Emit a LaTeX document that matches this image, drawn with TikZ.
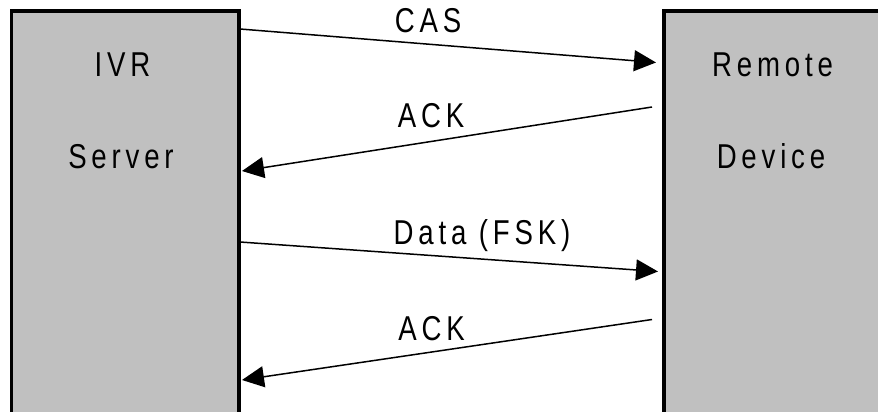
\documentclass[tikz,border=0pt]{standalone}
\usepackage{fontspec}
\setmainfont{Liberation Sans}[FakeStretch=0.8, LetterSpace=14]
\usetikzlibrary{arrows.meta}
\definecolor{boxgray}{HTML}{C0C0C0}
\tikzset{
  boxnode/.style={draw=black, line width=3.5pt, fill=boxgray, rectangle, inner sep=0pt},
  msg/.style={line width=1.5pt, -{Triangle[length=22pt, width=21pt]}, shorten >=0pt},
  lbl/.style={anchor=base, inner sep=0pt, font=\fontsize{34.5}{38}\selectfont}
}
\begin{document}
\begin{tikzpicture}[x=1pt, y=-1pt]
\useasboundingbox (0,0) rectangle (878,412);
\clip (0,0) rectangle (878,412);
\fill[white] (0,0) rectangle (878,412);
\node[boxnode, minimum width=227.5pt, minimum height=420pt, anchor=north west] (ivr) at (9.5,9.5) {};
\node[boxnode, minimum width=228pt, minimum height=420pt, anchor=north west] (rd) at (662,9.5) {};
\node[lbl] (t1) at (122.5,76.7) {IVR};
\node[lbl] (t2) at (121,168) {Server};
\node[lbl] (t3) at (772.5,77) {Remote};
\node[lbl] (t4) at (771,168) {Device};
\coordinate (a1) at (240,29);
\coordinate (b1) at (656,62.5);
\coordinate (a2) at (652,107);
\coordinate (b2) at (242,171);
\coordinate (a3) at (240,242);
\coordinate (b3) at (658,271.5);
\coordinate (a4) at (652,319.5);
\coordinate (b4) at (242,380);
\draw[msg] (a1) -- (b1);
\draw[msg] (a2) -- (b2);
\draw[msg] (a3) -- (b3);
\draw[msg] (a4) -- (b4);
\node[lbl] (l1) at (428,33) {CAS};
\node[lbl] (l2) at (431,127) {ACK};
\node[lbl] (l3) at (482,244) {Data (FSK)};
\node[lbl] (l4) at (431.5,340) {ACK};
\end{tikzpicture}
\end{document}
